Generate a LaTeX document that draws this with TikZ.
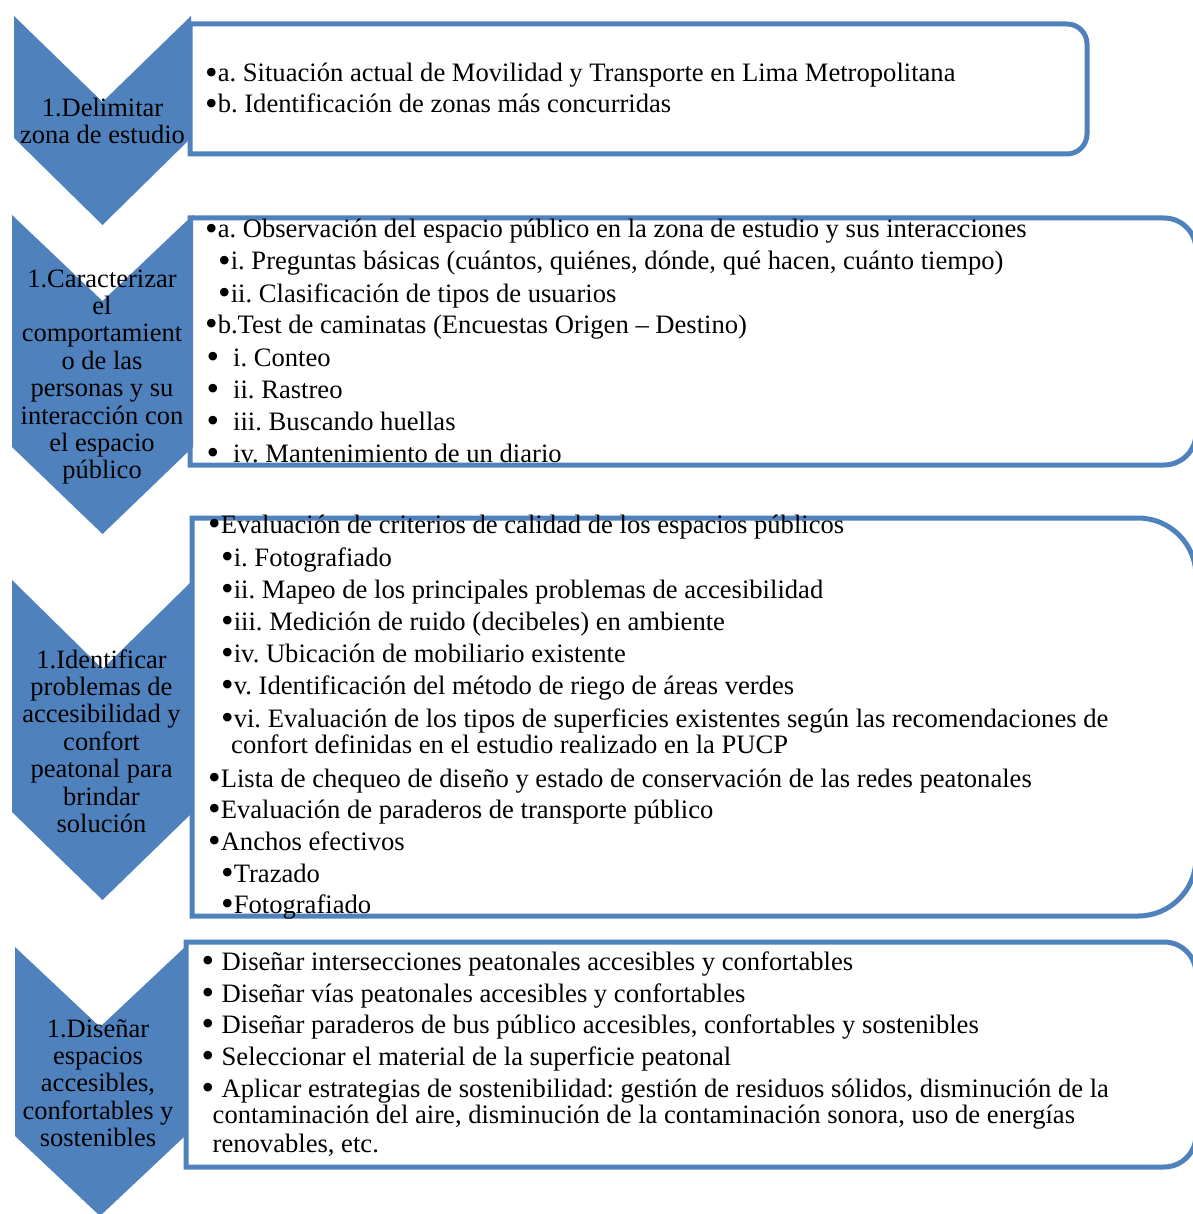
\documentclass[tikz,border=0pt]{standalone}
\usepackage{fontspec}
\setmainfont{Liberation Serif}
\frenchspacing
\definecolor{cblue}{HTML}{4F81BD}
\tikzset{
  boxline/.style={draw=cblue, line width=5pt, fill=white},
  chev/.style={fill=cblue, draw=none},
  chevtext/.style={align=center, inner sep=0pt, font=\fontsize{26.5}{27.4}\selectfont},
  ln/.style={anchor=base west, inner sep=0pt, font=\fontsize{26.6}{32}\selectfont},
}
\newcommand{\bu}{\raisebox{-0.11em}{\scalebox{1.35}{•}}}
\newcommand{\bul}[1]{\makebox[#1][l]{\bu}}
\begin{document}
\begin{tikzpicture}[x=1pt,y=-1pt]
\useasboundingbox (0,0) rectangle (1192,1214);
% boxes (rounded on the right side only)
\draw[boxline] (190,24) -- (1067,24) arc[start angle=-90,end angle=0,radius=20] -- (1087,134) arc[start angle=0,end angle=90,radius=20] -- (190,154) -- cycle;
\draw[boxline] (190,218) -- (1164,218) arc[start angle=-90,end angle=0,radius=32] -- (1196,433) arc[start angle=0,end angle=90,radius=32] -- (190,465) -- cycle;
\draw[boxline] (192,518) -- (1138,518) arc[start angle=-90,end angle=0,radius=58] -- (1196,858) arc[start angle=0,end angle=90,radius=58] -- (192,916) -- cycle;
\draw[boxline] (186,942) -- (1164,942) arc[start angle=-90,end angle=0,radius=32] -- (1196,1135) arc[start angle=0,end angle=90,radius=32] -- (186,1167) -- cycle;
% chevrons
\fill[chev] (14,16) -- (102.5,102) -- (191,16) -- (191,138) -- (102.5,225) -- (14,138) -- cycle;
\fill[chev] (12,215) -- (102.5,301) -- (193,215) -- (193,447) -- (102.5,534) -- (12,447) -- cycle;
\fill[chev] (12,580) -- (102.5,669) -- (193,580) -- (193,812) -- (102.5,900) -- (12,812) -- cycle;
\fill[chev] (15,947) -- (100,1027) -- (185,947) -- (185,1136) -- (100,1216) -- (15,1136) -- cycle;
% chevron texts
\node[chevtext] (c1) at (102.5,121) {1.Delimitar\\zona de estudio};
\node[chevtext] (c2) at (102,377) {1.Caracterizar\\el\\comportamient\\o de las\\personas y su\\interacción con\\el espacio\\público};
\node[chevtext] (c3) at (101.5,741) {1.Identificar\\problemas de\\accesibilidad y\\confort\\peatonal para\\brindar\\solución};
\node[chevtext] (c4) at (98,1083) {1.Diseñar\\espacios\\accesibles,\\confortables y\\sostenibles};
% box 1
\node[ln] (a1) at (205,82) {\bu a. Situación actual de Movilidad y Transporte en Lima Metropolitana};
\node[ln] (a2) at (205,113) {\bu b. Identificación de zonas más concurridas};
% box 2
\node[ln] (b1) at (205,238) {\bu a. Observación del espacio público en la zona de estudio y sus interacciones};
\node[ln] (b2) at (218,270) {\bu i. Preguntas básicas (cuántos, quiénes, dónde, qué hacen, cuánto tiempo)};
\node[ln] (b3) at (218,302) {\bu ii. Clasificación de tipos de usuarios};
\node[ln] (b4) at (205,333) {\bu b.Test de caminatas (Encuestas Origen – Destino)};
\node[ln] (b5) at (206.5,366) {\bul{26.5pt}i. Conteo};
\node[ln] (b6) at (206.5,398) {\bul{26.5pt}ii. Rastreo};
\node[ln] (b7) at (206.5,430) {\bul{26.5pt}iii. Buscando huellas};
\node[ln] (b8) at (206.5,462) {\bul{26.5pt}iv. Mantenimiento de un diario};
% box 3
\node[ln] (d1) at (208,533) {\bu Evaluación de criterios de calidad de los espacios públicos};
\node[ln] (d2) at (221,566) {\bu i. Fotografiado};
\node[ln] (d3) at (221,598) {\bu ii. Mapeo de los principales problemas de accesibilidad};
\node[ln] (d4) at (221,630) {\bu iii. Medición de ruido (decibeles) en ambiente};
\node[ln] (d5) at (221,662) {\bu iv. Ubicación de mobiliario existente};
\node[ln] (d6) at (221,694) {\bu v. Identificación del método de riego de áreas verdes};
\node[ln] (d7) at (221,727) {\bu vi. Evaluación de los tipos de superficies existentes según las recomendaciones de};
\node[ln] (d8) at (231,753) {confort definidas en el estudio realizado en la PUCP};
\node[ln] (d9) at (208,787) {\bu Lista de chequeo de diseño y estado de conservación de las redes peatonales};
\node[ln] (d10) at (208,818) {\bu Evaluación de paraderos de transporte público};
\node[ln] (d11) at (208,850) {\bu Anchos efectivos};
\node[ln] (d12) at (221,882) {\bu Trazado};
\node[ln] (d13) at (221,913) {\bu Fotografiado};
% box 4
\node[ln] (e1) at (201.5,970) {\bul{20pt}Diseñar intersecciones peatonales accesibles y confortables};
\node[ln] (e2) at (201.5,1002) {\bul{20pt}Diseñar vías peatonales accesibles y confortables};
\node[ln] (e3) at (201.5,1033) {\bul{20pt}Diseñar paraderos de bus público accesibles, confortables y sostenibles};
\node[ln] (e4) at (201.5,1065) {\bul{20pt}Seleccionar el material de la superficie peatonal};
\node[ln] (e5) at (201.5,1097) {\bul{20pt}Aplicar estrategias de sostenibilidad: gestión de residuos sólidos, disminución de la};
\node[ln] (e6) at (212.5,1123) {contaminación del aire, disminución de la contaminación sonora, uso de energías};
\node[ln] (e7) at (212.5,1152) {renovables, etc.};
\end{tikzpicture}
\end{document}
